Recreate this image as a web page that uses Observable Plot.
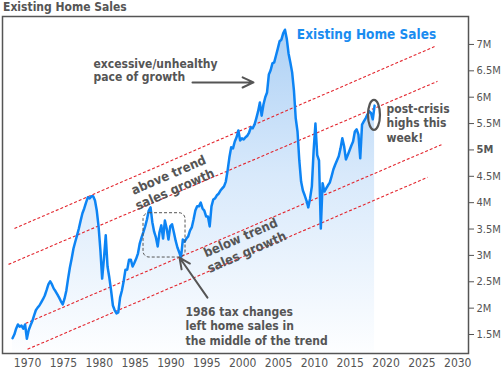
<!DOCTYPE html>
<html><head><meta charset="utf-8">
<script src="https://cdn.jsdelivr.net/npm/d3@7"></script>
<script src="https://cdn.jsdelivr.net/npm/@observablehq/plot@0.6"></script>
<style>
body{margin:0;background:#fff;}
#title{height:15px;line-height:16px;padding-left:3px;font:bold 12px "DejaVu Sans Condensed","DejaVu Sans",sans-serif;color:#555;white-space:nowrap;}
</style></head><body>
<div id="title">Existing Home Sales</div>
<div id="chart"></div>
<script>
// Existing home sales (millions, SAAR), quarterly samples
const startYear = 1967.9;
const stepYears = 0.25;
const sales = [
1.43,1.50,1.61,1.69,1.65,1.67,1.61,1.69,1.42,1.58,
1.67,1.75,1.86,1.96,2.01,2.05,2.11,2.17,2.24,2.34,
2.45,2.51,2.45,2.37,2.32,2.26,2.20,2.13,2.07,2.18,
2.33,2.56,2.77,2.94,3.13,3.26,3.38,3.51,3.66,3.80,
3.89,4.00,4.10,4.08,4.12,4.12,4.04,3.85,3.55,3.11,
2.56,2.94,3.38,2.79,2.58,2.33,2.05,1.96,1.90,1.92,
2.20,2.33,2.51,2.73,2.73,2.92,2.92,2.79,2.86,2.94,
3.04,3.23,3.34,3.44,3.55,3.68,3.85,3.91,3.63,3.45,
3.34,3.17,3.44,3.57,3.32,3.66,3.51,3.30,3.55,3.59,
3.44,3.28,3.15,3.06,2.96,3.30,3.26,3.32,3.36,3.47,
3.53,3.68,3.85,3.93,3.93,4.00,3.89,3.85,3.74,3.74,
3.55,3.93,4.06,4.08,4.14,4.17,4.23,4.27,4.31,4.40,
4.61,4.86,5.05,5.03,5.16,5.24,5.37,5.18,5.22,5.20,
5.24,5.27,5.33,5.43,5.41,5.48,5.60,5.73,5.90,5.65,
5.86,6.00,6.09,6.43,6.51,6.64,6.66,6.79,6.92,7.06,
7.09,7.21,7.28,7.11,6.83,6.66,6.47,6.13,5.60,5.35,
4.80,4.40,4.23,4.14,4.04,3.91,4.08,4.31,4.99,5.50,
4.90,4.80,3.51,4.37,4.21,4.27,4.33,4.38,4.50,4.63,
4.72,4.80,4.88,5.03,5.22,5.07,4.82,4.90,4.99,5.08,
5.16,5.35,5.39,5.29,4.84,5.48,5.54,5.60,5.67,5.73,
5.70,5.58,5.84
];

// Trend channel lines (year, millions)
const trendFromYear  = [1968.17, 1967.34, 1969.71, 1969.99];
const trendFromValue = [3.51, 2.83, 1.71, 1.22];
const trendToYear    = [2026.76, 2027.17, 2027.73, 2025.78];
const trendToValue   = [6.96, 6.30, 5.10, 4.48];

// Tick labels
const xTicks = [1970,1975,1980,1985,1990,1995,2000,2005,2010,2015,2020,2025,2030];
const yTicks = [1.5,2,2.5,3,3.5,4,4.5,5,5.5,6,6.5,7];

// Annotations
const notes = [
  {year: 1979.19, value: 6.50, label: "excessive/unhealthy\npace of growth"},
  {year: 2020.06, value: 5.52, label: "post-crisis\nhighs this\nweek!"},
  {year: 1992.03, value: 1.67, label: "1986 tax changes\nleft home sales in\nthe middle of the trend"}
];
const bandNotes = [
  {year: 1990.07, value: 4.40, label: "above trend\nsales growth"},
  {year: 2000.11, value: 3.21, label: "below trend\nsales growth"}
];
const arrows = [
  {x1: 1993.0, y1: 6.28, x2: 2001.51, y2: 6.28},
  {x1: 1995.09, y1: 2.20, x2: 1991.19, y2: 2.96}
];
const taxBox = [{x1: 1986.17, x2: 1992.03, y1: 2.96, y2: 3.80}];
const highsMark = [{x1: 2017.55, x2: 2019.22, y1: 5.37, y2: 5.94}];
const chartLabel = [{year: 2017.27, value: 7.19, label: "Existing Home Sales"}];

const data = sales.map((v, i) => ({year: startYear + i * stepYears, sales: v}));
const trendIdx = trendFromYear.map((d, i) => i);

const defs = () => {
  const g = document.createElementNS("http://www.w3.org/2000/svg", "defs");
  g.innerHTML = '<linearGradient id="areaGrad" x1="0" y1="0" x2="0" y2="1">' +
    '<stop offset="0" stop-color="#aed1f5"/><stop offset="0.45" stop-color="#d8e9fb"/><stop offset="1" stop-color="#fdfeff"/></linearGradient>';
  return g;
};

const font = '"DejaVu Sans Condensed","DejaVu Sans",sans-serif';
const grey = "#555";

const chart = Plot.plot({
  width: 504, height: 355,
  marginLeft: 2, marginRight: 36, marginTop: 1, marginBottom: 17,
  style: {fontFamily: font, background: "#fff", color: grey, overflow: "visible"},
  x: {domain: [1966.5, 2031.5]},
  y: {domain: [1.14, 7.53]},
  marks: [
    defs,
    Plot.areaY(data, {x: "year", y1: 1.14, y2: "sales", fill: "url(#areaGrad)"}),
    Plot.link(trendIdx, {x1: i => trendFromYear[i], y1: i => trendFromValue[i], x2: i => trendToYear[i], y2: i => trendToValue[i],
      stroke: "#e3262e", strokeWidth: 1.1, strokeDasharray: "3,2"}),
    Plot.line(data, {x: "year", y: "sales", stroke: "#0d84f4", strokeWidth: 2.5}),
    Plot.rect(taxBox, {x1: "x1", x2: "x2", y1: "y1", y2: "y2", rx: 6, fill: "none", stroke: grey, strokeWidth: 1, strokeDasharray: "3,2"}),
    Plot.rect(highsMark, {x1: "x1", x2: "x2", y1: "y1", y2: "y2", rx: 6, ry: 15, fill: "none", stroke: grey, strokeWidth: 2.2}),
    Plot.arrow(arrows, {x1: "x1", y1: "y1", x2: "x2", y2: "y2", stroke: grey, strokeWidth: 2, headLength: 9, headAngle: 50}),
    Plot.text(notes.slice(0,1), {x: "year", y: "value", text: "label", textAnchor: "start", lineAnchor: "middle", lineHeight: 1.08,
      fontSize: 12, fontWeight: "bold", fill: grey}),
    Plot.text(notes.slice(1), {x: "year", y: "value", text: "label", textAnchor: "start", lineAnchor: "middle", lineHeight: 1.2,
      fontSize: 12, fontWeight: "bold", fill: grey}),
    Plot.text(bandNotes, {x: "year", y: "value", text: "label", textAnchor: "middle", lineAnchor: "middle", lineHeight: 1.2,
      rotate: -23.5, fontSize: 13, fontWeight: "bold", fill: grey}),
    Plot.text(chartLabel, {x: "year", y: "value", text: "label", textAnchor: "middle", fontSize: 13.5, fontWeight: "bold", fill: "#1a8cf0"}),
    Plot.frame({stroke: grey, strokeWidth: 1.5}),
    Plot.axisX({ticks: xTicks, tickSize: 0, tickPadding: 5, tickFormat: d => String(d), fontSize: 12, label: null}),
    Plot.axisY({anchor: "right", ticks: yTicks.filter(d => d !== 5), tickSize: 5, tickPadding: 3, tickFormat: d => d + "M", fontSize: 11, label: null}),
    Plot.axisY({anchor: "right", ticks: [5], tickSize: 5, tickPadding: 3, tickFormat: d => d + "M", fontSize: 11, fontWeight: "bold", label: null})
  ]
});
document.getElementById("chart").appendChild(chart);
</script></body></html>
